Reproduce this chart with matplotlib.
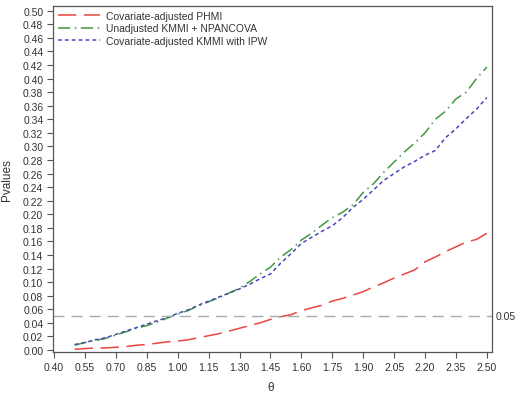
import numpy as np
import matplotlib
matplotlib.use("Agg")
import matplotlib.pyplot as plt

plt.rcParams["font.family"] = ["Liberation Sans", "DejaVu Sans"]

theta = [0.50, 0.55, 0.60, 0.65, 0.70, 0.75, 0.80, 0.85, 0.90, 0.95,
         1.00, 1.05, 1.10, 1.15, 1.20, 1.25, 1.30, 1.35, 1.40, 1.45,
         1.50, 1.55, 1.60, 1.65, 1.70, 1.75, 1.80, 1.85, 1.90, 1.95,
         2.00, 2.05, 2.10, 2.15, 2.20, 2.25, 2.30, 2.35, 2.40, 2.45, 2.50]

phmi = [0.001, 0.002, 0.003, 0.003, 0.004, 0.005, 0.007, 0.008, 0.010, 0.012,
        0.013, 0.015, 0.018, 0.021, 0.024, 0.028, 0.032, 0.036, 0.040, 0.045,
        0.049, 0.052, 0.058, 0.062, 0.066, 0.072, 0.076, 0.081, 0.086, 0.093,
        0.099, 0.106, 0.112, 0.118, 0.130, 0.137, 0.145, 0.152, 0.159, 0.163, 0.172]

kmmi_npancova = [0.007, 0.011, 0.014, 0.017, 0.022, 0.027, 0.032, 0.036, 0.041, 0.047,
                 0.053, 0.058, 0.065, 0.071, 0.077, 0.084, 0.091, 0.101, 0.112, 0.122,
                 0.137, 0.148, 0.162, 0.172, 0.184, 0.195, 0.203, 0.214, 0.232, 0.245,
                 0.262, 0.277, 0.292, 0.305, 0.320, 0.340, 0.352, 0.370, 0.380, 0.400, 0.417]

kmmi_ipw = [0.008, 0.011, 0.015, 0.018, 0.023, 0.028, 0.033, 0.038, 0.043, 0.048,
            0.054, 0.059, 0.066, 0.072, 0.078, 0.084, 0.090, 0.097, 0.105, 0.112,
            0.128, 0.142, 0.157, 0.166, 0.175, 0.183, 0.195, 0.210, 0.222, 0.236,
            0.250, 0.260, 0.270, 0.278, 0.287, 0.294, 0.313, 0.326, 0.341, 0.355, 0.372]

labels = ["Covariate-adjusted PHMI",
          "Unadjusted KMMI + NPANCOVA",
          "Covariate-adjusted KMMI with IPW"]

fig = plt.figure(figsize=(5.18, 4.02), dpi=100)
ax = fig.add_axes([53 / 518, 1 - 353 / 402, (492 - 53) / 518, (353 - 7) / 402])

ax.plot(theta, phmi, color="#e8463f", lw=1.1, dashes=(12, 5), label=labels[0])
ax.plot(theta, kmmi_npancova, color="#3f9a3f", lw=1.1, dashes=(8, 3, 1, 3), label=labels[1])
ax.plot(theta, kmmi_ipw, color="#4848b8", lw=1.1, dashes=(2.5, 2), label=labels[2])

ax.axhline(0.05, color="#aaaaaa", lw=1.0, dashes=(8, 5))
ax.text(2.542, 0.05, "0.05", va="center", ha="left", fontsize=7.5, color="#333333")

ax.set_xlim(0.395, 2.525)
ax.set_ylim(-0.003, 0.507)
xt = np.arange(0.40, 2.51, 0.15)
yt = np.arange(0, 0.501, 0.02)
ax.set_xticks(xt)
ax.set_xticklabels([f"{v:.2f}" for v in xt])
ax.set_yticks(yt)
ax.set_yticklabels([f"{v:.2f}" for v in yt])
ax.tick_params(labelsize=7.5, labelcolor="#333333", color="#555555", length=4, width=0.8, pad=3)
for s in ax.spines.values():
    s.set_color("#555555")
    s.set_linewidth(0.9)

ax.set_xlabel("θ", fontsize=8.5, color="#333333")
ax.set_ylabel("Pvalues", fontsize=8.5, color="#333333")
ax.xaxis.set_label_coords(0.495, -0.085)
ax.yaxis.set_label_coords(-0.092, 0.5)

leg = ax.legend(loc="upper left", frameon=False, fontsize=7.5, handlelength=4.1,
                borderaxespad=0.15, borderpad=0.3, labelspacing=0.25, handletextpad=0.5)
for t in leg.get_texts():
    t.set_color("#333333")

fig.savefig("out.png", dpi=100)
